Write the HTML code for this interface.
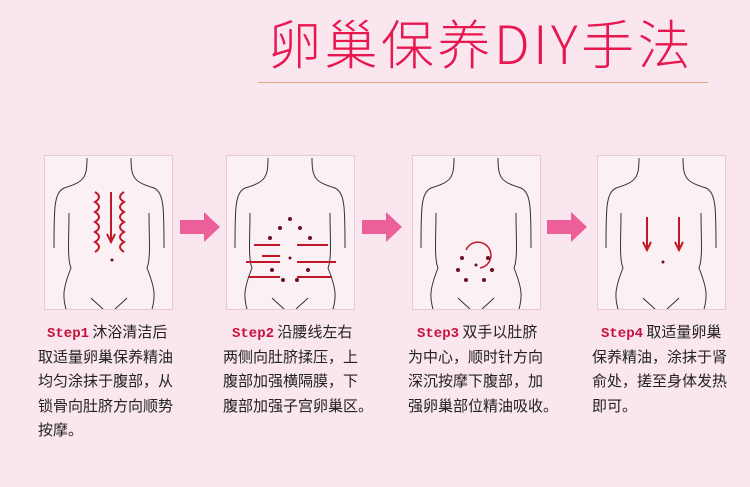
<!DOCTYPE html>
<html><head><meta charset="utf-8"><style>
body{margin:0;width:750px;height:487px;overflow:hidden;background:#f9e6ee;font-family:"Liberation Sans","Noto Sans CJK SC",sans-serif;position:relative}
.t{position:absolute;left:268px;top:12px;font-size:53px;color:#e8174f;letter-spacing:3.5px;font-family:"Noto Sans CJK SC","WenQuanYi Zen Hei",sans-serif;line-height:60px;font-weight:300}
.ln{position:absolute;left:258px;top:82px;width:450px;height:1px;background:#d9aa80}
.p{position:absolute;top:155px;width:129px;height:155px;background:#fbf1f5;border:1px solid #e8c8d4;box-sizing:border-box}
.tx{position:absolute;top:320px;font-size:15px;line-height:24.6px;color:#222;font-family:"WenQuanYi Zen Hei","Noto Sans CJK SC",sans-serif;white-space:pre}
.tx div{height:24.6px;overflow:visible}
.tx b{color:#c8103c;font-family:"Liberation Mono",monospace;font-size:14px;line-height:10px;padding-left:9px}
</style></head><body>
<div class="t">卵巢保养DIY手法</div>
<div class="ln"></div>
<div class="p" style="left:44px"></div>
<div class="p" style="left:226px"></div>
<div class="p" style="left:412px"></div>
<div class="p" style="left:597px"></div>
<svg width="750" height="487" style="position:absolute;left:0;top:0" fill="none" stroke="#333" stroke-width="1">
<defs><clipPath id="c"><rect x="-64" y="-4" width="128" height="155"/></clipPath><g id="body" clip-path="url(#c)"><path d="M-22,0 C-22,20 -25,24 -45,30 C-55,35 -55,50 -55,90 M22,0 C22,20 25,24 45,30 C55,35 55,50 55,90 M-40,55 C-40,80 -42,100 -38,110 C-46,130 -48,140 -40,160 M40,55 C40,80 42,100 38,110 C46,130 48,140 40,160 M-18,140 C-8,150 -5,150 0,160 C5,150 8,150 18,140"/></g>
<polygon id="pa" points="0,8 24,8 24,0 40,15 24,30 24,22 0,22" fill="#ec5f99" stroke="none"/></defs>
<use href="#body" x="109" y="158"/><use href="#body" x="290" y="158"/><use href="#body" x="476" y="158"/><use href="#body" x="661" y="158"/>
<use href="#pa" x="180" y="212"/><use href="#pa" x="362" y="212"/><use href="#pa" x="547" y="212"/>
<g stroke="#c01828" stroke-width="2">
<path d="M95,192 q8,5 0,10 q8,5 0,10 q8,5 0,10 q8,5 0,10 q8,5 0,10 q8,5 0,10"/>
<path d="M124,192 q-8,5 0,10 q-8,5 0,10 q-8,5 0,10 q-8,5 0,10 q-8,5 0,10 q-8,5 0,10"/>
<path d="M111,192 V240 M107,234 L111,242 L115,234"/>
<path d="M254,245 H280 M262,256 H280 M246,262 H280 M248,277 H280 M297,245 H328 M297,262 H336 M297,277 H332"/>
<path d="M647,217 V248 M643,242 L647,250 L651,242 M679,217 V248 M675,242 L679,250 L683,242"/>
<path d="M466,250 A13,13 0 1 1 480,268" stroke-width="1.5"/>
</g>
<g fill="#6a1020" stroke="none">
<circle cx="290" cy="219" r="2"/><circle cx="280" cy="228" r="2"/><circle cx="300" cy="228" r="2"/><circle cx="270" cy="238" r="2"/><circle cx="310" cy="238" r="2"/><circle cx="272" cy="270" r="2"/><circle cx="308" cy="270" r="2"/><circle cx="283" cy="280" r="2"/><circle cx="297" cy="280" r="2"/><circle cx="290" cy="258" r="1.5"/><circle cx="112" cy="260" r="1.5"/>
<circle cx="462" cy="258" r="2"/><circle cx="488" cy="258" r="2"/><circle cx="458" cy="270" r="2"/><circle cx="492" cy="270" r="2"/><circle cx="466" cy="280" r="2"/><circle cx="484" cy="280" r="2"/><circle cx="476" cy="265" r="1.5"/><circle cx="663" cy="262" r="1.5"/>
</g></svg>
<div class="tx" style="left:38px"><div><b>Step1</b> 沐浴清洁后</div><div>取适量卵巢保养精油</div><div>均匀涂抹于腹部，从</div><div>锁骨向肚脐方向顺势</div><div>按摩。</div></div>
<div class="tx" style="left:223px"><div><b>Step2</b> 沿腰线左右</div><div>两侧向肚脐揉压，上</div><div>腹部加强横隔膜，下</div><div>腹部加强子宫卵巢区。</div></div>
<div class="tx" style="left:408px"><div><b>Step3</b> 双手以肚脐</div><div>为中心，顺时针方向</div><div>深沉按摩下腹部，加</div><div>强卵巢部位精油吸收。</div></div>
<div class="tx" style="left:592px"><div><b>Step4</b> 取适量卵巢</div><div>保养精油，涂抹于肾</div><div>俞处，搓至身体发热</div><div>即可。</div></div>
</body></html>
